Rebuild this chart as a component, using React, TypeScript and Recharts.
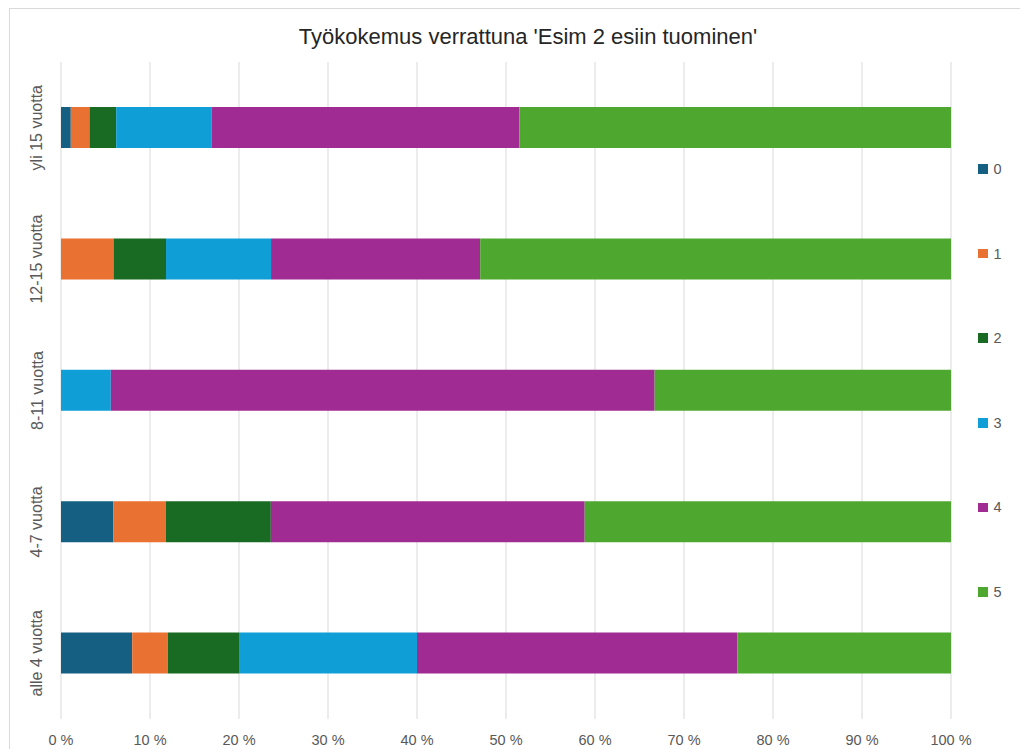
import React from 'react';
import { BarChart, Bar, XAxis, YAxis, CartesianGrid, Legend } from 'recharts';

const categories = ['yli 15 vuotta', '12-15 vuotta', '8-11 vuotta', '4-7 vuotta', 'alle 4 vuotta'];
const s0 = [1.1, 0, 0, 5.9, 8];
const s1 = [2.1, 5.9, 0, 5.9, 4];
const s2 = [3.0, 5.9, 0, 11.8, 8];
const s3 = [10.7, 11.8, 5.6, 0, 20];
const s4 = [34.6, 23.5, 61.1, 35.3, 36];
const s5 = [48.5, 52.9, 33.3, 41.2, 24];
const seriesNames = ['0', '1', '2', '3', '4', '5'];
const seriesColors = ['#156082', '#E97132', '#196B24', '#0F9ED5', '#A02B93', '#4EA72E'];
const xTicks = [0, 0.1, 0.2, 0.3, 0.4, 0.5, 0.6, 0.7, 0.8, 0.9, 1];
const title = "Työkokemus verrattuna 'Esim 2 esiin tuominen'";

const allSeries = [s0, s1, s2, s3, s4, s5];
const data = categories.map((cat, i) => {
  const row: Record<string, string | number> = { cat };
  seriesNames.forEach((n, j) => {
    row[n] = allSeries[j][i];
  });
  return row;
});

const FONT = '"Liberation Sans", Arial, sans-serif';

const YTick = (props: any) => {
  const { x, y, payload } = props;
  const cx = x - 24;
  return (
    <text
      x={cx}
      y={y}
      transform={`rotate(-90 ${cx} ${y})`}
      textAnchor="middle"
      dominantBaseline="central"
      fill="#595959"
      fontSize={16}
      fontFamily={FONT}
    >
      {payload.value}
    </text>
  );
};

const LegendContent = () => (
  <div style={{ fontFamily: FONT }}>
    {seriesNames.map((n, i) => (
      <div key={n} style={{ height: 84.6, display: 'flex', alignItems: 'center' }}>
        <span style={{ display: 'inline-block', width: 9.5, height: 9.5, background: seriesColors[i], marginRight: 6 }} />
        <span style={{ fontSize: 14.5, color: '#595959' }}>{n}</span>
      </div>
    ))}
  </div>
);

export default function App() {
  return (
    <div style={{ position: 'fixed', left: 0, top: 0, width: 1020, height: 749, overflow: 'hidden', background: '#fff' }}>
      <div style={{ position: 'absolute', left: 9, top: 8, width: 1100, height: 800, border: '1px solid #d9d9d9', boxSizing: 'border-box' }} />
      <div
        style={{
          position: 'absolute',
          left: 228,
          width: 600,
          top: 23,
          textAlign: 'center',
          fontFamily: FONT,
          fontSize: 22,
          color: '#262626',
          lineHeight: '28px',
        }}
      >
        {title}
      </div>
      <div style={{ position: 'absolute', left: 0, top: 0 }}>
        <BarChart
          width={1020}
          height={749}
          data={data}
          layout="vertical"
          stackOffset="expand"
          barSize={41}
          margin={{ top: 62, right: 69, bottom: 0, left: 0 }}
        >
          <CartesianGrid horizontal={false} stroke="#d9d9d9" />
          <XAxis
            type="number"
            domain={[0, 1]}
            ticks={xTicks}
            tickFormatter={(v: number) => `${Math.round(v * 100)} %`}
            axisLine={false}
            tickLine={false}
            tickSize={0}
            tickMargin={16}
            height={30}
            interval={0}
            tick={{ fill: '#595959', fontSize: 14.5, fontFamily: FONT }}
          />
          <YAxis
            type="category"
            dataKey="cat"
            width={61}
            axisLine={false}
            tickLine={false}
            tickSize={0}
            tickMargin={0}
            tick={<YTick />}
          />
          <Legend
            layout="vertical"
            align="center"
            verticalAlign="middle"
            content={<LegendContent />}
            wrapperStyle={{ left: 978, top: 126.7, width: 42 }}
          />
          {seriesNames.map((n, i) => (
            <Bar key={n} dataKey={n} name={n} stackId="a" fill={seriesColors[i]} isAnimationActive={false} />
          ))}
        </BarChart>
      </div>
    </div>
  );
}
